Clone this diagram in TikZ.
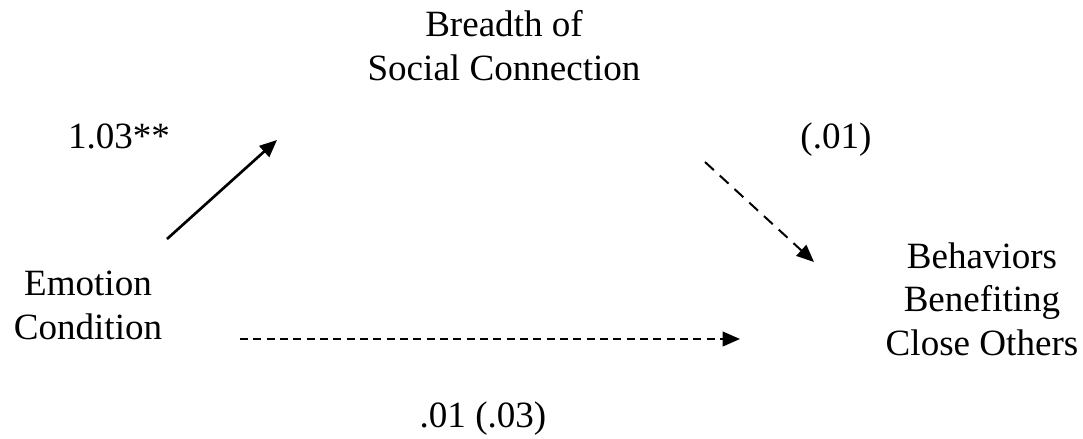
\documentclass[tikz,border=0pt]{standalone}
\usepackage{fontspec}
\setmainfont{Liberation Serif}
\usetikzlibrary{arrows.meta}

\begin{document}
\begin{tikzpicture}[x=0.75pt,y=-0.75pt,>={Triangle[length=13pt,width=11pt]},
        var node/.style={align=center,anchor=base,font=\fontsize{27.8}{32.3}\selectfont},
        coef node/.style={anchor=base,font=\fontsize{27.8}{32.3}\selectfont}]
                \useasboundingbox (0,0) rectangle (1083,439);
                \node[var node] (emo) at (88,339) {Emotion\\Condition};
                \node[var node] (bre) at (504,80) {Breadth of\\Social Connection};
                \node[var node] (beh) at (982,355) {Behaviors\\Benefiting\\Close Others};
                \node[coef node] (a) at (119,148) {1.03**};
                \node[coef node] (b) at (836,148) {(.01)};
                \node[coef node] (c) at (483,427) {.01 (.03)};

                % arrow ends
                \coordinate (emo-a) at (167,239);
                \coordinate (bre-a) at (277,140);
                \coordinate (bre-b) at (705,162);
                \coordinate (beh-b) at (814,262);
                \coordinate (emo-c) at (240,339);
                \coordinate (beh-c) at (740,339);

                \draw[->,line width=2pt] (emo-a) -- (bre-a);
                \draw[->,line width=1.5pt,dash pattern=on 9pt off 6pt] (bre-b) -- (beh-b);
                \draw[->,line width=1.5pt,dash pattern=on 6pt off 4pt] (emo-c) -- (beh-c);
            \end{tikzpicture}
\end{document}
